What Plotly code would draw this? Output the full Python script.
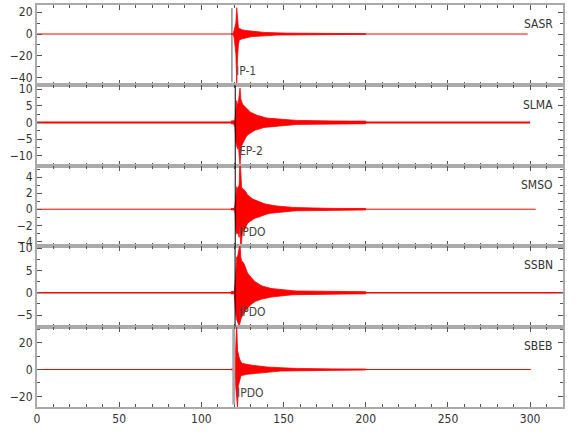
import plotly.graph_objects as go
from plotly.subplots import make_subplots

# ---- data ----
stations = ["SASR", "SLMA", "SMSO", "SSBN", "SBEB"]
phase_labels = ["IP-1", "EP-2", "IPDO", "IPDO", "IPDO"]
phase_times = [118.6, 120.6, 120.6, 120.5, 119.7]
trace_end = [298.5, 300.0, 303.4, 320.0, 300.4]
baseline_width = [1, 2, 1, 1.6, 1.2]

# times (s) at which the envelope of the waveform was read
env_time = [118, 119, 119.5, 120, 120.5, 121, 121.5, 122, 122.5, 123, 123.5, 124, 124.5,
            125, 126, 127, 128, 129, 130, 131, 132, 133, 134, 135, 136, 137, 138, 139,
            140, 142, 144, 146, 148, 150, 152, 154, 156, 158, 160, 163, 166, 170, 175,
            180, 190, 200]

sasr_up = [0.3, 0.3, 1, 4, 6, 10, 24, 8, 6, 5, 5, 4.5, 4, 4, 3.5, 3.2, 3, 2.8, 2.5, 2.3,
           2.2, 2, 1.9, 1.8, 1.7, 1.6, 1.5, 1.4, 1.3, 1.2, 1.1, 1.0, 0.9, 0.9, 0.8, 0.8,
           0.7, 0.7, 0.6, 0.6, 0.5, 0.5, 0.4, 0.4, 0.3, 0.3]
sasr_dn = [0.3, 0.3, 1, 4, 7, 18, 45, 22, 10, 6, 5, 5, 4.5, 4, 3.5, 3.2, 3, 2.8, 2.5, 2.3,
           2.2, 2, 1.9, 1.8, 1.7, 1.6, 1.5, 1.4, 1.3, 1.2, 1.1, 1.0, 0.9, 0.9, 0.8, 0.8,
           0.7, 0.7, 0.6, 0.6, 0.5, 0.5, 0.4, 0.4, 0.3, 0.3]

slma_up = [0.4, 0.4, 0.4, 0.5, 1, 5, 6.5, 5, 6, 8, 10.3, 7, 6, 5.5, 5, 4.5, 3.8, 3.5, 3,
           2.8, 2.5, 2.3, 2.1, 2, 1.8, 1.7, 1.5, 1.4, 1.3, 1.2, 1.1, 1.0, 1.0, 0.9, 0.8,
           0.8, 0.7, 0.6, 0.6, 0.55, 0.5, 0.5, 0.45, 0.45, 0.4, 0.4]
slma_dn = [0.4, 0.4, 0.4, 0.5, 1.5, 6, 7, 8, 6.5, 10, 12.5, 9, 7, 6, 5.5, 4.5, 3.8, 3.5, 3,
           2.8, 2.5, 2.3, 2.1, 2, 1.8, 1.7, 1.5, 1.4, 1.3, 1.2, 1.1, 1.0, 1.0, 0.9, 0.8,
           0.8, 0.7, 0.6, 0.6, 0.55, 0.5, 0.5, 0.45, 0.45, 0.4, 0.4]

smso_up = [0.08, 0.08, 0.08, 0.1, 0.5, 2, 2.8, 2.5, 2.8, 3, 6.5, 3, 2.6, 2.6, 2.4, 2.2,
           1.8, 1.6, 1.5, 1.3, 1.2, 1.1, 1.0, 0.95, 0.9, 0.8, 0.7, 0.65, 0.6, 0.5, 0.45,
           0.4, 0.35, 0.3, 0.28, 0.25, 0.22, 0.2, 0.18, 0.16, 0.15, 0.13, 0.12, 0.1, 0.1,
           0.09]
smso_dn = [0.08, 0.08, 0.08, 0.1, 0.5, 2.5, 3.1, 3, 3, 3.5, 2, 5, 4.5, 2.8, 2.7, 2.3,
           1.8, 1.6, 1.5, 1.3, 1.2, 1.1, 1.0, 0.95, 0.9, 0.8, 0.7, 0.65, 0.6, 0.5, 0.45,
           0.4, 0.35, 0.3, 0.28, 0.25, 0.22, 0.2, 0.18, 0.16, 0.15, 0.13, 0.12, 0.1, 0.1,
           0.09]

ssbn_up = [0.25, 0.25, 0.25, 0.3, 2, 6, 8, 8, 9, 9.8, 11, 8, 7, 7, 6.5, 5.5, 4.5, 4, 3.5,
           3, 2.7, 2.4, 2.1, 1.9, 1.7, 1.5, 1.4, 1.2, 1.1, 1.0, 0.9, 0.8, 0.7, 0.6, 0.55,
           0.5, 0.45, 0.4, 0.38, 0.35, 0.33, 0.3, 0.3, 0.28, 0.27, 0.25]
ssbn_dn = [0.25, 0.25, 0.25, 0.3, 2, 5, 6, 6.5, 7, 7.5, 7, 6, 5.5, 5, 4.5, 4, 3.5, 3, 2.7,
           2.4, 2.1, 1.9, 1.8, 1.7, 1.5, 1.4, 1.3, 1.2, 1.1, 1.0, 0.9, 0.8, 0.7, 0.6, 0.55,
           0.5, 0.45, 0.4, 0.38, 0.35, 0.33, 0.3, 0.3, 0.28, 0.27, 0.25]

sbeb_up = [0.3, 0.3, 0.3, 0.5, 6, 16, 33, 14, 10, 9, 7, 5.5, 5, 4.5, 4.2, 4, 3.6, 3.4,
           3.2, 3.1, 3.0, 2.8, 2.6, 2.5, 2.3, 2.2, 2.0, 1.9, 1.8, 1.7, 1.5, 1.4, 1.2, 1.1,
           1.0, 0.9, 0.85, 0.8, 0.7, 0.65, 0.6, 0.55, 0.5, 0.45, 0.4, 0.35]
sbeb_dn = [0.3, 0.3, 0.3, 0.5, 5, 14, 20, 28, 12, 9, 7, 5, 4.5, 4.5, 4, 3.8, 3.5, 3.4,
           3.2, 3.1, 3.0, 2.8, 2.6, 2.5, 2.3, 2.2, 2.0, 1.9, 1.8, 1.7, 1.5, 1.4, 1.2, 1.1,
           1.0, 0.9, 0.85, 0.8, 0.7, 0.65, 0.6, 0.55, 0.5, 0.45, 0.4, 0.35]

env_up = [sasr_up, slma_up, smso_up, ssbn_up, sbeb_up]
env_dn = [sasr_dn, slma_dn, smso_dn, ssbn_dn, sbeb_dn]

y_ranges = [[-46.9, 26.5], [-13, 11.1], [-4.6, 5.4], [-7.6, 10.45], [-27.8, 31.8]]
y_dtick = [20, 5, 2, 5, 20]
y_minor = [10, 2.5, 1, 2.5, 10]

# ---- figure ----
fig = make_subplots(rows=5, cols=1, shared_xaxes=True, vertical_spacing=0)

FAMILY = "Liberation Sans Narrow, DejaVu Sans Condensed, Liberation Sans, sans-serif"
RED = "#ff0000"

for i in range(5):
    r = i + 1
    # background noise line
    fig.add_trace(go.Scatter(
        x=[0, trace_end[i]], y=[0, 0],
        mode="lines", line=dict(color=RED, width=baseline_width[i]),
        hoverinfo="skip", showlegend=False), row=r, col=1)
    # waveform envelope (upper forward, lower back)
    xs = list(env_time) + list(reversed(env_time))
    ys = list(env_up[i]) + [-d for d in reversed(env_dn[i])]
    fig.add_trace(go.Scatter(x=xs, y=ys, mode="lines", fill="toself",
                             fillcolor=RED, line=dict(color=RED, width=0.8),
                             hoverinfo="skip", showlegend=False), row=r, col=1)

    axis_common = dict(showline=True, linecolor="#aaaaaa", linewidth=2, mirror="ticks",
                       ticks="inside", ticklen=5, tickwidth=1, tickcolor="#555555",
                       showgrid=False, zeroline=False, automargin=False,
                       tickfont=dict(family=FAMILY, size=12, color="#333333"))
    fig.update_yaxes(range=y_ranges[i], dtick=y_dtick[i], tick0=0,
                     minor=dict(dtick=y_minor[i], tick0=0, ticks="inside", ticklen=3,
                                tickcolor="#555555", showgrid=False),
                     row=r, col=1, **axis_common)
    fig.update_xaxes(range=[0, 320], dtick=50, tick0=0,
                     minor=dict(dtick=10, tick0=0, ticks="inside", ticklen=3,
                                tickcolor="#555555", showgrid=False),
                     row=r, col=1, **axis_common)

    yref_dom = "y domain" if r == 1 else f"y{r} domain"
    xref = "x" if r == 1 else f"x{r}"
    # phase pick line
    if r == 1:
        y0, y1, col, w = 0.04, 0.96, "#555555", 1
    elif r == 5:
        y0, y1, col, w = 0.03, 0.97, "#aaaaaa", 3
    else:
        y0, y1, col, w = 0.0, 1.0, "#000000", 1
    fig.add_shape(type="line", xref=xref, yref=yref_dom, x0=phase_times[i],
                  x1=phase_times[i], y0=y0, y1=y1, line=dict(color=col, width=w),
                  layer="above")
    # phase label
    fig.add_annotation(xref=xref, yref=yref_dom, x=phase_times[i] + 1.0, y=0.18,
                       text=phase_labels[i], showarrow=False, xanchor="left",
                       yanchor="middle",
                       font=dict(family=FAMILY, size=12, color="#444444"))
    # station label
    fig.add_annotation(xref="paper", yref=yref_dom, x=0.985, y=0.76,
                       text=stations[i], showarrow=False, xanchor="right",
                       yanchor="middle",
                       font=dict(family=FAMILY, size=12, color="#333333"))

fig.update_layout(width=580, height=440, margin=dict(l=37, r=17, t=5, b=33),
                  paper_bgcolor="white", plot_bgcolor="white", showlegend=False)

fig.write_html("out.html", config={"displayModeBar": False},
               post_script="document.body.style.margin='0';")
